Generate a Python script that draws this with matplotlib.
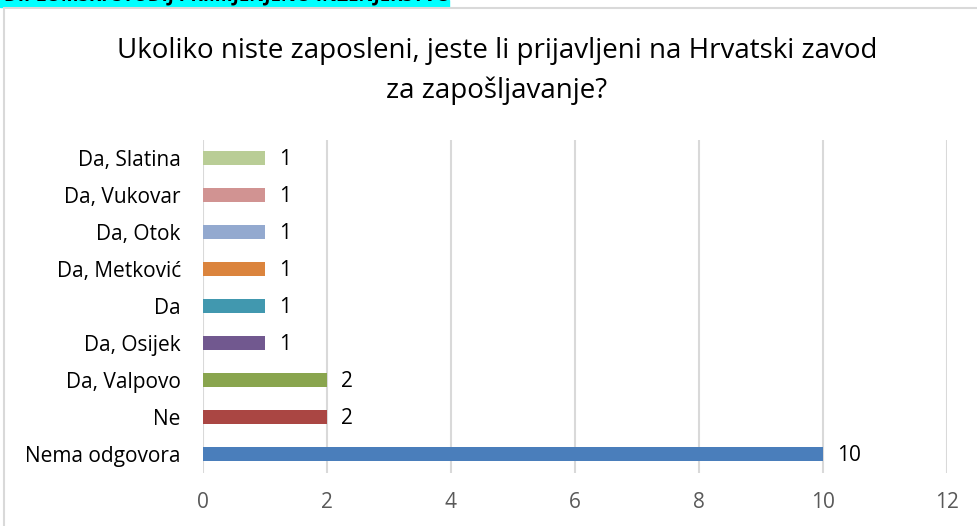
import matplotlib.pyplot as plt
from matplotlib.patches import Rectangle

# Categories from bottom to top, as in the chart
categories = ["Nema odgovora", "Ne", "Da, Valpovo", "Da, Osijek", "Da",
              "Da, Metković", "Da, Otok", "Da, Vukovar", "Da, Slatina"]
values = [10, 2, 2, 1, 1, 1, 1, 1, 1]
bar_colors = ["#4A7EBB", "#AA4643", "#89A54E", "#71588F", "#4198AF",
              "#DB843D", "#93A9CF", "#D19392", "#B9CD96"]
x_ticks = [0, 2, 4, 6, 8, 10, 12]

title = "Ukoliko niste zaposleni, jeste li prijavljeni na Hrvatski zavod\nza zapošljavanje?"
banner = "DIPLOMSKI STUDIJ PRIMIJENJENO INŽENJERSTVO"

plt.rcParams['font.family'] = ['Open Sans', 'DejaVu Sans']

fig = plt.figure(figsize=(9.78, 5.26), dpi=100)

# cyan banner strip at the top, text cut off by the page
fig.patches.append(Rectangle((0, 1 - 7 / 526), 449 / 978, 7 / 526,
                             transform=fig.transFigure, color="#00FFFF", zorder=0))
fig.text(0.004, 1 + 5 / 526, banner, fontsize=13.5, fontweight="bold",
         color="black", va="center", ha="left")

# chart frame
fig.patches.append(Rectangle((4 / 978, -0.1), 1.2, 1 - 8 / 526 + 0.1,
                             transform=fig.transFigure, fill=False,
                             edgecolor="#D9D9D9", linewidth=1.5, zorder=0))

ax = fig.add_axes([203 / 978, 53.5 / 526, 744 / 978, 333 / 526])
ypos = list(range(len(categories)))
ax.barh(ypos, values, height=0.38, color=bar_colors, zorder=3)

for y, v in zip(ypos, values):
    ax.annotate(str(v), (v, y), xytext=(10, -1), textcoords="offset points",
                ha="left", va="center", fontsize=15, color="black")

ax.set_xlim(0, 12)
ax.set_ylim(-0.5, len(categories) - 0.5)
ax.set_xticks(x_ticks)
ax.set_yticks(ypos)
ax.set_yticklabels(categories, fontsize=15, color="black")
ax.tick_params(axis="x", length=0, pad=14, labelsize=15, labelcolor="#595959")
ax.tick_params(axis="y", length=0, pad=16)
ax.grid(axis="x", color="#D9D9D9", linewidth=1.5, zorder=0)
for s in ax.spines.values():
    s.set_visible(False)

fig.text(497 / 978, 1 - 71 / 526, title, ha="center", va="center",
         fontsize=20, color="black", linespacing=1.5)

fig.savefig("out.png", dpi=100)
